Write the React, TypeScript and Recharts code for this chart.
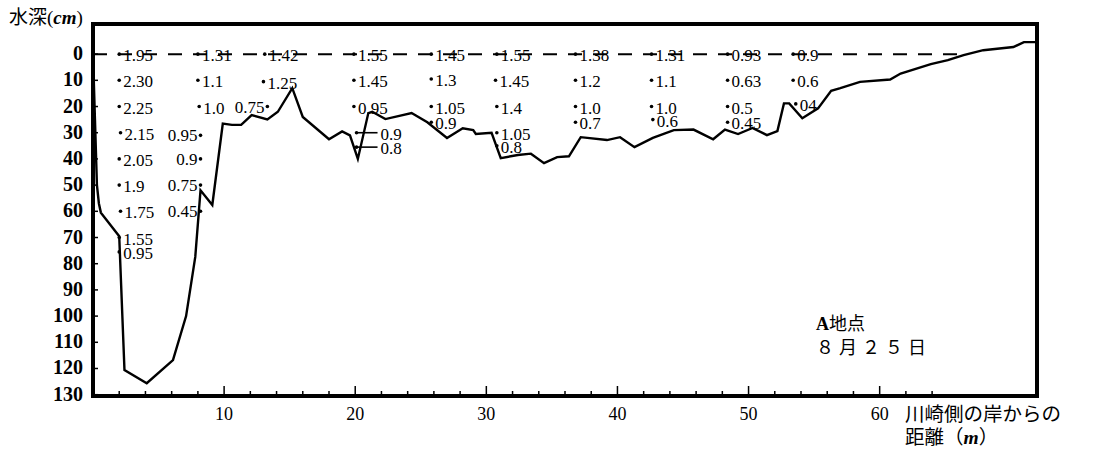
import React from 'react';
import { ComposedChart, Line, Scatter, XAxis, YAxis, ReferenceLine, ReferenceArea } from 'recharts';

const W = 1102;
const H = 456;
const MARGIN = { top: 24, right: 65, bottom: 0, left: 0 };
const Y_AXIS_W = 93;
const X_AXIS_H = 60;
const PLOT_LEFT = MARGIN.left + Y_AXIS_W;
const PLOT_BOTTOM = H - MARGIN.bottom - X_AXIS_H;
const SERIF = "'Liberation Serif', 'DejaVu Serif', serif";
const CJK = "'Noto Sans CJK JP', 'Noto Sans', sans-serif";

// 川崎側の岸からの距離 (m) / 水深 (cm)
const profileDist = [
  0, 0.15, 0.3, 0.45, 0.6, 2.0, 2.4, 4.1, 6.1, 7.1, 7.8, 8.2, 9.1, 9.9, 10.6, 11.3, 12.1, 13.3,
  14.1, 15.2, 16.0, 18.0, 19.0, 19.6, 20.2, 21.0, 21.3, 22.3, 24.3, 25.5, 27.0, 28.2, 29.0, 29.2,
  30.4, 31.1, 32.4, 33.4, 34.4, 35.4, 36.3, 37.2, 39.2, 40.2, 41.3, 42.7, 44.3, 45.8, 47.3, 48.2,
  49.2, 50.3, 51.4, 52.2, 52.7, 53.1, 54.1, 55.3, 56.3, 57.0, 58.5, 60.8, 61.6, 63.9, 65.2, 66.4,
  67.9, 70.2, 71.0, 72.0,
];
const profileDepth = [
  0, 25, 50, 57, 60.5, 69.5, 120.6, 125.6, 116.8, 100, 77.4, 52, 57.6, 26.5, 27, 27, 23.3, 24.9,
  22, 13, 24, 32.5, 29.5, 31, 40, 22.5, 22, 24.8, 22.5, 26, 32, 28.3, 29, 30.5,
  30, 39.7, 38.5, 38, 41.6, 39.3, 39, 31.7, 32.8, 31.7, 35.5, 32, 29, 28.8, 32.5, 28.8,
  30.5, 28.2, 30.9, 29.4, 18.8, 18.8, 24.5, 20.7, 14, 13, 10.6, 9.7, 7.4, 3.8, 2.3, 0.4,
  -1.5, -2.7, -4.6, -4.6,
];
const surfaceEnd = 66.4;

// 流速 (m/s) – label right of the point
const velDist = [
  2, 2, 2, 2.1, 2, 2, 2.1, 2, 2,
  8, 8, 8.1,
  13.1, 13.0,
  19.9, 19.9, 19.9,
  25.8, 25.8, 25.8, 25.8,
  30.8, 30.7, 30.8, 30.8, 30.8,
  36.8, 36.8, 36.8, 36.8,
  42.6, 42.6, 42.6, 42.7,
  48.4, 48.4, 48.4, 48.4,
  53.4, 53.4, 53.6,
];
const velDepth = [
  0, 10, 20, 30, 40, 50, 60, 70, 75.5,
  0, 10, 20,
  0, 10.5,
  0, 10, 20,
  0, 9.5, 20, 26,
  0, 10, 20, 30, 35,
  0, 10, 20, 26,
  0, 10, 20, 25,
  0, 10, 20, 26,
  0, 10, 19,
];
const velText = [
  '1.95', '2.30', '2.25', '2.15', '2.05', '1.9', '1.75', '1.55', '0.95',
  '1.31', '1.1', '1.0',
  '1.42', '1.25',
  '1.55', '1.45', '0.95',
  '1.45', '1.3', '1.05', '0.9',
  '1.55', '1.45', '1.4', '1.05', '0.8',
  '1.38', '1.2', '1.0', '0.7',
  '1.31', '1.1', '1.0', '0.6',
  '0.93', '0.63', '0.5', '0.45',
  '0.9', '0.6', '04',
];

// label left of the point
const velLeftDist = [8.2, 8.2, 8.2, 8.2, 13.3];
const velLeftDepth = [31, 40, 50, 60, 20];
const velLeftText = ['0.95', '0.9', '0.75', '0.45', '0.75'];

// label with a leader line
const velLeaderDist = [20.1, 20.1];
const velLeaderDepth = [30, 35.5];
const velLeaderText = ['0.9', '0.8'];

const xTicks = [2, 4, 6, 8, 10, 12, 14, 16, 18, 20, 22, 24, 26, 28, 30, 32, 34, 36, 38, 40, 42, 44, 46, 48, 50, 52, 54, 56, 58, 60, 62, 64];
const xLabels = [10, 20, 30, 40, 50, 60];
const yTicks = [0, 10, 20, 30, 40, 50, 60, 70, 80, 90, 100, 110, 120, 130];

const profile = profileDist.map((x, i) => ({ x, y: profileDepth[i] }));
const velRight = velDist.map((x, i) => ({ x, y: velDepth[i], label: velText[i] }));
const velLeft = velLeftDist.map((x, i) => ({ x, y: velLeftDepth[i], label: velLeftText[i] }));
const velLeader = velLeaderDist.map((x, i) => ({ x, y: velLeaderDepth[i], label: velLeaderText[i] }));

const numStyle = { fontFamily: SERIF, fontSize: 17 };

const RightLabel = (p: any) => (
  <g>
    <circle cx={p.cx} cy={p.cy} r={1.8} fill="#000" />
    <text x={p.cx + 4} y={p.cy + 7} style={numStyle} fill="#000">{p.payload.label}</text>
  </g>
);

const LeftLabel = (p: any) => (
  <g>
    <circle cx={p.cx} cy={p.cy} r={1.8} fill="#000" />
    <text x={p.cx - 3} y={p.cy + 6} style={numStyle} fill="#000" textAnchor="end">{p.payload.label}</text>
  </g>
);

const LeaderLabel = (p: any) => (
  <g>
    <circle cx={p.cx} cy={p.cy} r={1.8} fill="#000" />
    <line x1={p.cx} x2={p.cx + 21} y1={p.cy} y2={p.cy} stroke="#000" strokeWidth={1.6} />
    <text x={p.cx + 24} y={p.cy + 7} style={numStyle} fill="#000">{p.payload.label}</text>
  </g>
);

const XTick = ({ x, payload }: any) => {
  const v = payload.value;
  const major = v % 10 === 0;
  return (
    <g>
      <line x1={x} x2={x} y1={PLOT_BOTTOM} y2={PLOT_BOTTOM - (major ? 10 : 5)} stroke="#000" strokeWidth={1.5} />
      {xLabels.includes(v) && (
        <text x={x} y={PLOT_BOTTOM + 24} textAnchor="middle" fill="#000"
          style={{ fontFamily: SERIF, fontSize: 18 }}>{v}</text>
      )}
    </g>
  );
};

const YTick = ({ y, payload }: any) => (
  <g>
    <line x1={PLOT_LEFT} x2={PLOT_LEFT + 5} y1={y} y2={y} stroke="#000" strokeWidth={1.5} />
    <text x={83} y={y + 6} textAnchor="end" fill="#000"
      style={{ fontFamily: SERIF, fontSize: 20, fontWeight: 'bold' }}>{payload.value}</text>
  </g>
);

export default function App() {
  return (
    <div style={{ position: 'absolute', left: 0, top: 0, width: W, height: H, background: '#fff' }}>
      <ComposedChart width={W} height={H} margin={MARGIN}>
        <XAxis type="number" dataKey="x" domain={[0, 72]} ticks={xTicks} interval={0} allowDataOverflow
          axisLine={false} tickLine={false} tick={XTick} height={X_AXIS_H} />
        <YAxis type="number" dataKey="y" domain={[-11.5, 130.5]} reversed ticks={yTicks} interval={0} allowDataOverflow
          axisLine={false} tickLine={false} tick={YTick} width={Y_AXIS_W} />
        <ReferenceLine segment={[{ x: 0, y: 0 }, { x: surfaceEnd, y: 0 }]} stroke="#000" strokeWidth={2}
          strokeDasharray="14 11" ifOverflow="visible" />
        <Line data={profile} dataKey="y" type="linear" stroke="#000" strokeWidth={2.4} dot={false}
          isAnimationActive={false} />
        <Scatter data={velRight} dataKey="y" shape={RightLabel} isAnimationActive={false} />
        <Scatter data={velLeft} dataKey="y" shape={LeftLabel} isAnimationActive={false} />
        <Scatter data={velLeader} dataKey="y" shape={LeaderLabel} isAnimationActive={false} />
        <ReferenceArea x1={0} x2={72} y1={-11.5} y2={130.5} fill="none" stroke="#000" strokeWidth={4}
          ifOverflow="visible" />
      </ComposedChart>
      <div style={{ position: 'absolute', left: 9, top: 5, fontSize: 19, lineHeight: '22px', fontFamily: CJK, color: '#000' }}>
        水深<span style={{ fontFamily: SERIF }}>(<b><i>cm</i></b>)</span>
      </div>
      <div style={{ position: 'absolute', left: 816, top: 311, fontSize: 18, lineHeight: '22px', fontFamily: CJK, color: '#000' }}>
        <span style={{ fontFamily: SERIF, fontWeight: 'bold' }}>A</span>地点
      </div>
      <div style={{ position: 'absolute', left: 816, top: 335, fontSize: 18, lineHeight: '22px', fontFamily: CJK, color: '#000', letterSpacing: 5 }}>
        ８月２５日
      </div>
      <div style={{ position: 'absolute', left: 905, top: 401, fontSize: 19.5, lineHeight: '23px', fontFamily: CJK, color: '#000', whiteSpace: 'nowrap' }}>
        川崎側の岸からの
      </div>
      <div style={{ position: 'absolute', left: 905, top: 424, fontSize: 19.5, lineHeight: '23px', fontFamily: CJK, color: '#000', whiteSpace: 'nowrap' }}>
        距離（<b><i style={{ fontFamily: SERIF }}>m</i></b>）
      </div>
    </div>
  );
}
